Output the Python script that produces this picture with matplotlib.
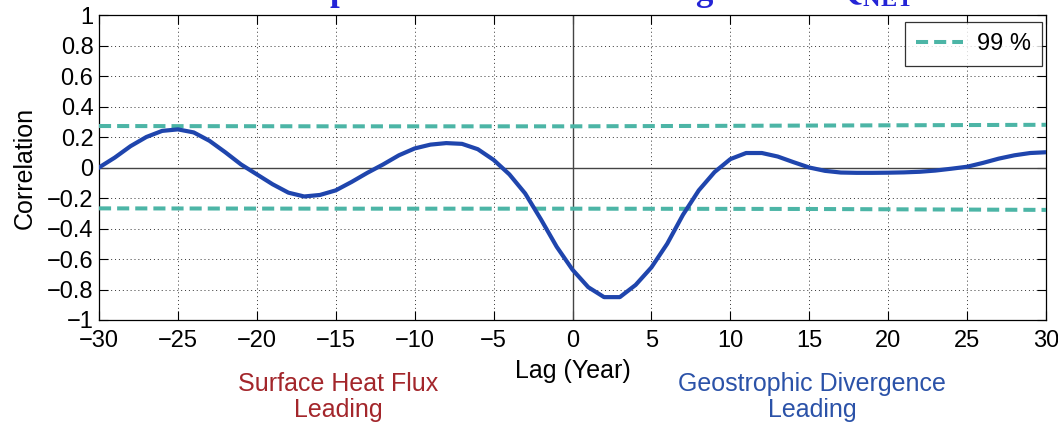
import numpy as np
import matplotlib
matplotlib.use("Agg")
import matplotlib.pyplot as plt

# lagged correlation, integer lags from -30 to 30 years
lags = np.arange(-30, 31)
corr = [0.0, 0.065, 0.14, 0.20, 0.24, 0.25, 0.23, 0.175, 0.10, 0.02,
        -0.045, -0.11, -0.165, -0.19, -0.18, -0.15, -0.095, -0.035, 0.02, 0.08,
        0.125, 0.15, 0.16, 0.155, 0.12, 0.05, -0.045, -0.17, -0.34, -0.52,
        -0.67, -0.785, -0.85, -0.85, -0.77, -0.655, -0.50, -0.31, -0.15, -0.03,
        0.055, 0.095, 0.095, 0.072, 0.035, 0.0, -0.022, -0.033, -0.035, -0.035,
        -0.034, -0.032, -0.028, -0.02, -0.008, 0.005, 0.03, 0.058, 0.08, 0.095,
        0.10]

# 99% significance level
sig_lags = [-30, -15, 0, 15, 30]
sig_upper = [0.272, 0.270, 0.270, 0.275, 0.280]
sig_lower = [-0.268, -0.270, -0.270, -0.272, -0.278]

title = "Temperature and Heat Divergence vs. Q$_{\\mathregular{NET}}$"
xlabel = "Lag (Year)"
ylabel = "Correlation"
left_note = "Surface Heat Flux\nLeading"
right_note = "Geostrophic Divergence\nLeading"

plt.rcParams["font.family"] = ["Liberation Sans", "DejaVu Sans"]

fig = plt.figure(figsize=(10.58, 4.26), dpi=100)
ax = fig.add_axes([99 / 1058, 1 - 320 / 426, 947 / 1058, 305 / 426])

teal = "#4cb5a6"
ax.plot(sig_lags, sig_upper, color=teal, lw=2.9, ls=(0, (3.0, 1.5)), label="99 %", zorder=3)
ax.plot(sig_lags, sig_lower, color=teal, lw=2.9, ls=(0, (3.0, 1.5)), zorder=3)
ax.axhline(0, color="#444444", lw=1.0, zorder=2)
ax.axvline(0, color="#444444", lw=1.0, zorder=2)
ax.plot(lags, corr, color="#1f45ad", lw=3.0, zorder=4)

ax.set_xlim(-30, 30)
ax.set_ylim(-1, 1)
ax.set_xticks(np.arange(-30, 31, 5))
ax.set_yticks(np.arange(-1, 1.01, 0.2))
ax.set_yticklabels(["\u22121", "\u22120.8", "\u22120.6", "\u22120.4", "\u22120.2",
                    "0", "0.2", "0.4", "0.6", "0.8", "1"])
ax.grid(True, color="#333333", lw=0.7, ls=(0, (1, 3)))
ax.tick_params(direction="in", length=6.5, width=0.8, top=True, right=True,
               labelsize=17)
ax.tick_params(axis="x", pad=7)
ax.tick_params(axis="y", pad=4)
for s in ax.spines.values():
    s.set_linewidth(0.9)

ax.set_xlabel(xlabel, fontsize=18, labelpad=5)
ax.set_ylabel(ylabel, fontsize=18, labelpad=7)

leg = ax.legend(loc="upper right", bbox_to_anchor=(0.9958, 0.976), fontsize=17,
                handlelength=2.0, handletextpad=0.6, frameon=True, fancybox=False,
                borderaxespad=0.0, borderpad=0.45)
leg.get_frame().set_edgecolor("black")
leg.get_frame().set_linewidth(0.9)

fig.text(338 / 1058, 1 - 397 / 426, left_note, color="#a3262b", fontsize=18,
         ha="center", va="center", linespacing=1.15)
fig.text(812 / 1058, 1 - 397 / 426, right_note, color="#2b52a8", fontsize=18,
         ha="center", va="center", linespacing=1.15)

# heading sits mostly above the canvas
fig.text(262 / 1058, 1 + 0.5 / 426, title, color="#2424d6", fontsize=25,
         fontweight="bold", family=["Liberation Serif", "DejaVu Serif"],
         ha="left", va="baseline")

fig.savefig("out.png", dpi=100)
